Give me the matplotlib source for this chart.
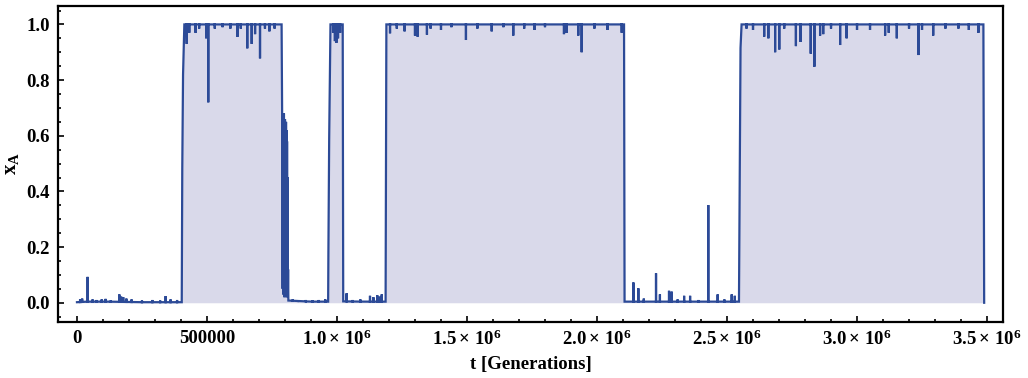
import numpy as np
import matplotlib
matplotlib.use("Agg")
import matplotlib.pyplot as plt
from matplotlib.ticker import MultipleLocator, FixedLocator, FixedFormatter

plt.rcParams['font.family'] = ['Liberation Serif', 'DejaVu Serif']
plt.rcParams['font.weight'] = 'bold'
plt.rcParams['axes.labelweight'] = 'bold'
plt.rcParams['mathtext.fontset'] = 'custom'
plt.rcParams['mathtext.rm'] = 'Liberation Serif:bold'
plt.rcParams['mathtext.it'] = 'Liberation Serif:italic:bold'
plt.rcParams['mathtext.bf'] = 'Liberation Serif:bold'

# ---- skeleton of the trajectory (generation, frequency of A) ----
base_t = [0, 40e3, 120e3, 250e3, 403e3, 405e3, 408e3, 413e3, 787e3,
          789e3, 791e3, 792e3, 793e3, 794e3, 795e3, 796e3, 797e3, 798e3,
          799e3, 800e3, 801e3, 802e3, 803e3, 804e3, 805e3, 806e3, 807e3,
          808e3, 809e3, 810e3, 811e3, 812e3, 813e3, 900e3, 966e3, 967e3,
          970e3, 975e3, 1022e3, 1024e3, 1100e3, 1187e3, 1190e3, 2104e3,
          2106e3, 2300e3, 2546e3, 2549e3, 2552e3, 2556e3, 3486e3, 3489e3]
base_x = [0.002, 0.004, 0.004, 0.002, 0.002, 0.48, 0.82, 1.0, 1.0,
          0.69, 0.05, 0.67, 0.03, 0.66, 0.04, 0.68, 0.02, 0.65,
          0.05, 0.66, 0.03, 0.64, 0.02, 0.65, 0.04, 0.62, 0.03,
          0.58, 0.02, 0.45, 0.03, 0.12, 0.008, 0.004, 0.004, 0.18,
          0.59, 1.0, 1.0, 0.005, 0.004, 0.004, 1.0, 1.0,
          0.004, 0.004, 0.004, 0.46, 0.915, 1.0, 1.0, 0.0]

# ---- short excursions away from the current state ----
spike_t = [12e3, 20e3, 41e3, 60e3, 75e3, 95e3, 110e3, 130e3, 163e3, 170e3,
           178e3, 190e3, 210e3, 250e3, 290e3, 320e3, 341e3, 360e3, 385e3,
           422e3, 432e3, 456e3, 470e3, 497e3, 505e3, 530e3, 560e3, 590e3,
           617e3, 630e3, 655e3, 672e3, 685e3, 704e3, 723e3, 740e3, 760e3,
           830e3, 850e3, 880e3, 905e3, 930e3, 955e3,
           985e3, 992e3, 998e3, 1004e3, 1012e3,
           1037e3, 1060e3, 1090e3, 1127e3, 1140e3, 1155e3, 1165e3, 1172e3,
           1204e3, 1230e3, 1260e3, 1300e3, 1310e3, 1346e3, 1360e3, 1400e3,
           1440e3, 1496e3, 1540e3, 1595e3, 1640e3, 1678e3, 1720e3, 1760e3,
           1800e3, 1873e3, 1883e3, 1928e3, 1941e3, 1990e3, 2040e3, 2095e3,
           2140e3, 2159e3, 2180e3, 2227e3, 2242e3, 2277e3, 2287e3, 2310e3,
           2335e3, 2358e3, 2390e3, 2428e3, 2464e3, 2490e3, 2518e3, 2530e3,
           2575e3, 2600e3, 2643e3, 2659e3, 2685e3, 2701e3, 2720e3, 2765e3,
           2783e3, 2822e3, 2836e3, 2858e3, 2870e3, 2900e3, 2935e3, 2960e3,
           3000e3, 3050e3, 3108e3, 3122e3, 3153e3, 3200e3, 3236e3, 3250e3,
           3293e3, 3340e3, 3390e3, 3430e3, 3467e3]
spike_x = [0.012, 0.015, 0.093, 0.012, 0.01, 0.012, 0.014, 0.008, 0.03, 0.022,
           0.02, 0.015, 0.012, 0.008, 0.01, 0.008, 0.024, 0.012, 0.01,
           0.93, 0.97, 0.97, 0.985, 0.95, 0.72, 0.985, 0.99, 0.985,
           0.955, 0.985, 0.914, 0.93, 0.965, 0.878, 0.985, 0.975, 0.985,
           0.012, 0.008, 0.01, 0.009, 0.01, 0.012,
           0.97, 0.94, 0.934, 0.95, 0.97,
           0.034, 0.01, 0.012, 0.025, 0.02, 0.027, 0.022, 0.03,
           0.968, 0.985, 0.975, 0.96, 0.956, 0.963, 0.985, 0.98,
           0.99, 0.944, 0.985, 0.975, 0.99, 0.96, 0.985, 0.98,
           0.99, 0.965, 0.97, 0.96, 0.90, 0.985, 0.98, 0.97,
           0.073, 0.052, 0.015, 0.106, 0.03, 0.043, 0.04, 0.012,
           0.025, 0.025, 0.01, 0.351, 0.03, 0.012, 0.03, 0.025,
           0.985, 0.98, 0.956, 0.95, 0.90, 0.91, 0.985, 0.922,
           0.937, 0.895, 0.848, 0.96, 0.965, 0.985, 0.926, 0.95,
           0.98, 0.98, 0.96, 0.97, 0.95, 0.985, 0.89, 0.98,
           0.96, 0.985, 0.985, 0.98, 0.97]

x_ticks = [0, 500000, 1.0e6, 1.5e6, 2.0e6, 2.5e6, 3.0e6, 3.5e6]
x_ticklabels = ["0", "500000", r"$1.0\times\,10^{6}$", r"$1.5\times\,10^{6}$",
                r"$2.0\times\,10^{6}$", r"$2.5\times\,10^{6}$", r"$3.0\times\,10^{6}$",
                r"$3.5\times\,10^{6}$"]
y_ticks = [0.0, 0.2, 0.4, 0.6, 0.8, 1.0]
y_ticklabels = ["0.0", "0.2", "0.4", "0.6", "0.8", "1.0"]

# ---- merge spikes into the skeleton ----
bt = np.array(base_t, float)
bx = np.array(base_x, float)
ts = [bt]
xs = [bx]
order = [np.zeros(len(bt))]
for st, sx in zip(spike_t, spike_x):
    lvl = np.interp(st, bt, bx)
    ts.append(np.array([st, st, st]))
    xs.append(np.array([lvl, sx, lvl]))
    order.append(np.array([1, 2, 3]))
T = np.concatenate(ts)
X = np.concatenate(xs)
O = np.concatenate(order)
idx = np.lexsort((O, T))
T, X = T[idx], X[idx]

line_color = "#2c4a97"
fill_color = "#d9d9ea"

fig = plt.figure(figsize=(10.28, 3.78), dpi=100)
ax = fig.add_axes([0.0564, 0.149, 0.9193, 0.835])
ax.fill_between(T, 0, X, color=fill_color, lw=0)
ax.plot(T, X, color=line_color, lw=1.6, solid_joinstyle='miter')

ax.set_xlim(-73000, 3.5615e6)
ax.set_ylim(-0.068, 1.066)

ax.xaxis.set_major_locator(FixedLocator(x_ticks))
ax.xaxis.set_major_formatter(FixedFormatter(x_ticklabels))
ax.xaxis.set_minor_locator(MultipleLocator(100000))
ax.yaxis.set_major_locator(FixedLocator(y_ticks))
ax.yaxis.set_major_formatter(FixedFormatter(y_ticklabels))
ax.yaxis.set_minor_locator(MultipleLocator(0.05))

ax.tick_params(which='both', direction='in', top=False, right=False,
               width=1.2, labelsize=13.5, colors='black')
ax.tick_params(which='major', length=4.5, pad=6)
ax.tick_params(which='minor', length=2.5)
for s in ax.spines.values():
    s.set_linewidth(1.6)

ax.set_xlabel("t [Generations]", fontsize=13.5, labelpad=5)
ax.set_ylabel(r"$\mathrm{x_A}$", fontsize=15, labelpad=4)

fig.savefig("out.png", dpi=100)
